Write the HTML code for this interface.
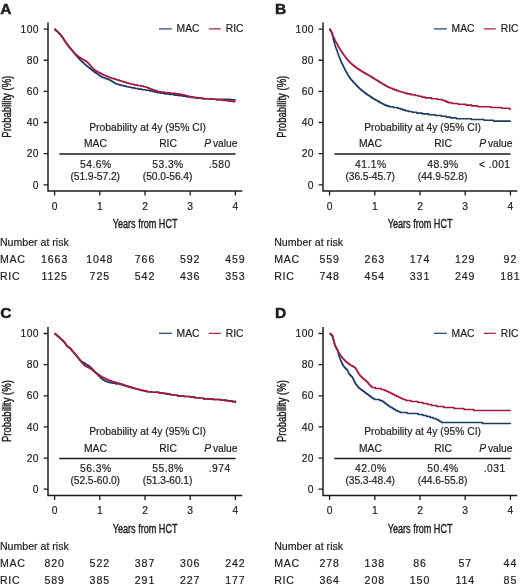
<!DOCTYPE html>
<html><head><meta charset="utf-8"><style>
html,body{margin:0;padding:0;background:#fff;}
svg{display:block;will-change:transform;}
text{font-family:"Liberation Sans", sans-serif;fill:#1c1c1c;stroke:#1c1c1c;}
</style></head><body>
<svg width="520" height="587" viewBox="0 0 520 587">
<rect width="520" height="587" fill="#fff"/>
<g stroke-width="0.18">
<g transform="translate(0,0)">
<text x="0.3" y="13.65" font-size="15.5" font-weight="bold" stroke="#1c1c1c" stroke-width="0.5">A</text>
<path d="M48,22.6 V191.1 H242.3" fill="none" stroke="#1c1c1c" stroke-width="1.5"/>
<path d="M43.6,184.80H48M43.6,153.66H48M43.6,122.52H48M43.6,91.38H48M43.6,60.24H48M43.6,29.10H48M54.60,191.1V195.6M99.80,191.1V195.6M145.00,191.1V195.6M190.20,191.1V195.6M235.40,191.1V195.6" stroke="#1c1c1c" stroke-width="1.3" fill="none"/>
<text x="39.050000000000004" y="188.5" font-size="10.3" text-anchor="end" letter-spacing="0.45">0</text>
<text x="39.050000000000004" y="157.36" font-size="10.3" text-anchor="end" letter-spacing="0.45">20</text>
<text x="39.050000000000004" y="126.22" font-size="10.3" text-anchor="end" letter-spacing="0.45">40</text>
<text x="39.050000000000004" y="95.08" font-size="10.3" text-anchor="end" letter-spacing="0.45">60</text>
<text x="39.050000000000004" y="63.94" font-size="10.3" text-anchor="end" letter-spacing="0.45">80</text>
<text x="39.050000000000004" y="32.8" font-size="10.3" text-anchor="end" letter-spacing="0.45">100</text>
<text x="54.6" y="209.6" font-size="10.3" text-anchor="middle" >0</text>
<text x="99.8" y="209.6" font-size="10.3" text-anchor="middle" >1</text>
<text x="145.0" y="209.6" font-size="10.3" text-anchor="middle" >2</text>
<text x="190.2" y="209.6" font-size="10.3" text-anchor="middle" >3</text>
<text x="235.4" y="209.6" font-size="10.3" text-anchor="middle" >4</text>
<text transform="translate(145.1,228.2) scale(0.74,1)" font-size="12.3" text-anchor="middle" stroke="#1c1c1c" stroke-width="0.4">Years from HCT</text>
<text transform="translate(10.9,106.7) rotate(-90) scale(0.763,1)" font-size="12.5" text-anchor="middle" stroke="#1c1c1c" stroke-width="0.4">Probability (%)</text>
<path d="M159,28.9H171.8" stroke="#1d3d68" stroke-width="1.2"/>
<path d="M208.75,28.9H220.75" stroke="#a8173c" stroke-width="1.2"/>
<text x="176.6" y="32.4" font-size="10.3" text-anchor="start" >MAC</text>
<text x="225.8" y="32.4" font-size="10.3" text-anchor="start" >RIC</text>
<path d="M54.60,29.10H55.00V29.70H55.60V30.30H56.20V30.90H57.00V31.50H57.60V32.10H58.20V32.70H58.80V33.30H59.40V33.90H60.00V34.50H60.40V35.10H61.00V35.70H61.40V36.30H62.00V36.90H62.40V37.50H62.80V38.10H63.20V38.70H63.60V39.30H64.00V39.90H64.40V40.50H64.80V41.10H65.20V41.70H65.60V42.30H66.00V42.90H66.40V43.50H66.80V44.10H67.20V44.70H67.80V45.30H68.20V45.90H68.60V46.50H69.20V47.10H69.60V47.70H70.20V48.30H70.60V48.90H71.20V49.50H71.60V50.10H72.20V50.70H72.60V51.30H73.00V51.90H73.60V52.50H74.00V53.10H74.60V53.70H75.00V54.30H75.40V54.90H76.00V55.50H76.40V56.10H77.00V56.70H77.60V57.30H78.00V57.90H78.60V58.50H79.20V59.10H79.80V59.70H80.40V60.30H81.00V60.90H81.60V61.50H82.20V62.10H83.00V62.70H83.60V63.30H84.20V63.90H85.00V64.50H85.60V65.10H86.20V65.70H87.00V66.30H87.80V66.90H88.40V67.50H89.20V68.10H90.00V68.70H90.60V69.30H91.40V69.90H92.20V70.50H93.00V71.10H93.80V71.70H94.60V72.30H95.60V72.90H96.40V73.50H97.20V74.10H98.00V74.70H98.80V75.30H99.80V75.90H100.60V76.50H101.60V77.10H102.80V77.70H104.60V78.30H106.20V78.90H108.00V79.50H109.40V80.10H110.60V80.70H111.60V81.30H112.60V81.90H113.40V82.50H114.40V83.10H115.40V83.70H117.00V84.30H118.80V84.90H121.00V85.50H123.60V86.10H126.20V86.70H128.80V87.30H131.80V87.90H134.80V88.50H138.20V89.10H141.80V89.70H145.80V90.30H149.60V90.90H152.40V91.50H154.80V92.10H157.20V92.70H160.60V93.30H164.60V93.90H169.20V94.50H174.20V95.10H178.80V95.70H182.80V96.30H186.80V96.90H191.00V97.50H196.00V98.10H201.80V98.70H212.40V99.30H230.60V99.90H235.40V99.80" fill="none" stroke="#1d3d68" stroke-width="1.6" stroke-linejoin="round"/>
<path d="M54.60,29.10H55.00V29.70H55.60V30.30H56.20V30.90H57.00V31.50H57.60V32.10H58.20V32.70H58.80V33.30H59.40V33.90H60.00V34.50H60.40V35.10H61.00V35.70H61.40V36.30H62.00V36.90H62.40V37.50H62.80V38.10H63.20V38.70H63.60V39.30H64.00V39.90H64.40V40.50H64.80V41.10H65.20V41.70H65.60V42.30H66.00V42.90H66.40V43.50H66.80V44.10H67.20V44.70H67.80V45.30H68.20V45.90H68.60V46.50H69.00V47.10H69.60V47.70H70.00V48.30H70.60V48.90H71.00V49.50H71.60V50.10H72.00V50.70H72.60V51.30H73.20V51.90H73.80V52.50H74.20V53.10H74.80V53.70H75.40V54.30H76.00V54.90H76.80V55.50H77.40V56.10H78.20V56.70H79.00V57.30H80.00V57.90H80.80V58.50H81.80V59.10H83.00V59.70H84.00V60.30H85.00V60.90H86.00V61.50H86.80V62.10H87.60V62.70H88.20V63.30H88.80V63.90H89.20V64.50H89.80V65.10H90.20V65.70H90.80V66.30H91.20V66.90H91.80V67.50H92.20V68.10H92.80V68.70H93.40V69.30H94.20V69.90H95.00V70.50H96.00V71.10H97.00V71.70H98.00V72.30H99.20V72.90H100.40V73.50H101.60V74.10H102.80V74.70H104.00V75.30H105.40V75.90H106.80V76.50H108.20V77.10H109.80V77.70H111.60V78.30H113.40V78.90H115.40V79.50H117.20V80.10H119.20V80.70H121.20V81.30H123.00V81.90H125.00V82.50H126.80V83.10H129.00V83.70H131.20V84.30H133.80V84.90H137.00V85.50H140.40V86.10H143.40V86.70H145.80V87.30H147.60V87.90H149.00V88.50H150.60V89.10H152.20V89.70H153.80V90.30H155.60V90.90H157.40V91.50H160.40V92.10H164.60V92.70H170.40V93.30H176.00V93.90H180.00V94.50H183.00V95.10H185.40V95.70H187.80V96.30H190.20V96.90H193.40V97.50H197.80V98.10H203.20V98.70H209.20V99.30H216.20V99.90H222.80V100.50H228.20V101.10H233.00V101.70H235.40" fill="none" stroke="#a8173c" stroke-width="1.6" stroke-linejoin="round"/>
<text x="147.6" y="131.1" font-size="10.3" text-anchor="middle" >Probability at 4y (95% CI)</text>
<text x="95.5" y="147.2" font-size="10.3" text-anchor="middle" >MAC</text>
<text x="168" y="147.2" font-size="10.3" text-anchor="middle" >RIC</text>
<text x="204.2" y="147.2" font-size="10.3" font-style="italic">P</text>
<text x="212.9" y="147.2" font-size="10.3" text-anchor="start" >value</text>
<path d="M59.3,154H235.6" stroke="#1c1c1c" stroke-width="1.5"/>
<text x="95.82" y="168.0" font-size="10.3" text-anchor="middle" letter-spacing="0.45">54.6%</text>
<text x="168.02" y="168.0" font-size="10.3" text-anchor="middle" letter-spacing="0.45">53.3%</text>
<text x="219.72" y="168.0" font-size="10.3" text-anchor="middle" letter-spacing="0.45">.580</text>
<text x="95.2" y="179.6" font-size="10.3" text-anchor="middle" letter-spacing="-0.08">(51.9-57.2)</text>
<text x="167.6" y="179.6" font-size="10.3" text-anchor="middle" letter-spacing="-0.08">(50.0-56.4)</text>
<text x="-0.1" y="245.8" font-size="10.6" text-anchor="start" >Number at risk</text>
<text x="-0.1" y="262.5" font-size="10.6" text-anchor="start" letter-spacing="0.7">MAC</text>
<text x="-0.1" y="279.6" font-size="10.6" text-anchor="start" letter-spacing="0.7">RIC</text>
<text x="54.6" y="262.8" font-size="10.6" text-anchor="middle" letter-spacing="0.9">1663</text>
<text x="54.6" y="279.7" font-size="10.6" text-anchor="middle" letter-spacing="0.9">1125</text>
<text x="99.8" y="262.8" font-size="10.6" text-anchor="middle" letter-spacing="0.9">1048</text>
<text x="99.8" y="279.7" font-size="10.6" text-anchor="middle" letter-spacing="0.9">725</text>
<text x="145.0" y="262.8" font-size="10.6" text-anchor="middle" letter-spacing="0.9">766</text>
<text x="145.0" y="279.7" font-size="10.6" text-anchor="middle" letter-spacing="0.9">542</text>
<text x="190.2" y="262.8" font-size="10.6" text-anchor="middle" letter-spacing="0.9">592</text>
<text x="190.2" y="279.7" font-size="10.6" text-anchor="middle" letter-spacing="0.9">436</text>
<text x="235.4" y="262.8" font-size="10.6" text-anchor="middle" letter-spacing="0.9">459</text>
<text x="235.4" y="279.7" font-size="10.6" text-anchor="middle" letter-spacing="0.9">353</text>
</g>
<g transform="translate(275,0)">
<text x="-0.1" y="13.65" font-size="15.5" font-weight="bold" stroke="#1c1c1c" stroke-width="0.5">B</text>
<path d="M48,22.6 V191.1 H242.3" fill="none" stroke="#1c1c1c" stroke-width="1.5"/>
<path d="M43.6,184.80H48M43.6,153.66H48M43.6,122.52H48M43.6,91.38H48M43.6,60.24H48M43.6,29.10H48M54.60,191.1V195.6M99.80,191.1V195.6M145.00,191.1V195.6M190.20,191.1V195.6M235.40,191.1V195.6" stroke="#1c1c1c" stroke-width="1.3" fill="none"/>
<text x="39.050000000000004" y="188.5" font-size="10.3" text-anchor="end" letter-spacing="0.45">0</text>
<text x="39.050000000000004" y="157.36" font-size="10.3" text-anchor="end" letter-spacing="0.45">20</text>
<text x="39.050000000000004" y="126.22" font-size="10.3" text-anchor="end" letter-spacing="0.45">40</text>
<text x="39.050000000000004" y="95.08" font-size="10.3" text-anchor="end" letter-spacing="0.45">60</text>
<text x="39.050000000000004" y="63.94" font-size="10.3" text-anchor="end" letter-spacing="0.45">80</text>
<text x="39.050000000000004" y="32.8" font-size="10.3" text-anchor="end" letter-spacing="0.45">100</text>
<text x="54.6" y="209.6" font-size="10.3" text-anchor="middle" >0</text>
<text x="99.8" y="209.6" font-size="10.3" text-anchor="middle" >1</text>
<text x="145.0" y="209.6" font-size="10.3" text-anchor="middle" >2</text>
<text x="190.2" y="209.6" font-size="10.3" text-anchor="middle" >3</text>
<text x="235.4" y="209.6" font-size="10.3" text-anchor="middle" >4</text>
<text transform="translate(145.1,228.2) scale(0.74,1)" font-size="12.3" text-anchor="middle" stroke="#1c1c1c" stroke-width="0.4">Years from HCT</text>
<text transform="translate(10.9,106.7) rotate(-90) scale(0.763,1)" font-size="12.5" text-anchor="middle" stroke="#1c1c1c" stroke-width="0.4">Probability (%)</text>
<path d="M159,28.9H171.8" stroke="#1d3d68" stroke-width="1.2"/>
<path d="M208.75,28.9H220.75" stroke="#a8173c" stroke-width="1.2"/>
<text x="176.6" y="32.4" font-size="10.3" text-anchor="start" >MAC</text>
<text x="225.8" y="32.4" font-size="10.3" text-anchor="start" >RIC</text>
<path d="M54.60,29.10H55.00V29.90H55.60V30.70H56.00V31.50H56.40V32.30H56.80V33.10H57.00V33.90H57.20V34.70H57.40V35.50H57.60V36.30H57.80V37.10H58.00V38.70H58.20V39.50H58.40V40.30H58.60V41.10H58.80V41.90H59.20V42.70H59.40V43.50H59.60V44.30H59.80V45.10H60.20V45.90H60.40V46.70H60.60V47.50H61.00V48.30H61.20V49.10H61.60V49.90H61.80V50.70H62.20V51.50H62.40V52.30H62.60V53.10H63.00V53.90H63.20V54.70H63.60V55.50H63.80V56.30H64.20V57.10H64.40V57.90H64.80V58.70H65.00V59.50H65.40V60.30H65.80V61.10H66.00V61.90H66.40V62.70H66.80V63.50H67.20V64.30H67.60V65.10H68.00V65.90H68.40V66.70H68.80V67.50H69.20V68.30H69.60V69.10H70.00V69.90H70.40V70.70H70.80V71.50H71.20V72.30H71.80V73.10H72.20V73.90H72.60V74.70H73.00V75.50H73.60V76.30H74.00V77.10H74.60V77.90H75.20V78.70H75.80V79.50H76.40V80.30H77.20V81.10H78.00V81.90H78.60V82.70H79.40V83.50H80.20V84.30H81.00V85.10H81.60V85.90H82.40V86.70H83.20V87.50H84.00V88.30H84.80V89.10H85.80V89.90H86.80V90.70H87.80V91.50H88.80V92.30H89.80V93.10H90.80V93.90H92.00V94.70H93.20V95.50H94.40V96.30H95.60V97.10H96.80V97.90H98.00V98.70H99.40V99.50H100.80V100.30H102.20V101.10H103.60V101.90H105.00V102.70H106.40V103.50H108.00V104.30H109.40V105.10H111.40V105.90H114.00V106.70H118.20V107.50H122.40V108.30H125.20V109.10H127.60V109.90H130.20V110.70H133.20V111.50H137.00V112.30H141.60V113.10H147.40V113.90H153.60V114.70H160.40V115.50H166.40V116.30H171.20V117.10H175.60V117.90H181.40V118.70H196.20V119.50H209.00V120.30H218.40V121.10H235.40V120.80" fill="none" stroke="#1d3d68" stroke-width="1.6" stroke-linejoin="round"/>
<path d="M54.60,29.10H55.00V29.90H55.40V30.70H56.00V31.50H56.40V32.30H56.80V33.10H57.20V33.90H57.40V34.70H57.80V35.50H58.00V36.30H58.40V37.10H58.80V37.90H59.00V38.70H59.40V39.50H59.80V40.30H60.20V41.10H60.60V41.90H61.00V42.70H61.60V43.50H62.00V44.30H62.40V45.10H62.80V45.90H63.40V46.70H63.80V47.50H64.20V48.30H64.80V49.10H65.20V49.90H65.80V50.70H66.20V51.50H66.80V52.30H67.40V53.10H67.80V53.90H68.40V54.70H69.00V55.50H69.60V56.30H70.20V57.10H70.80V57.90H71.40V58.70H72.00V59.50H72.60V60.30H73.40V61.10H74.20V61.90H75.00V62.70H75.80V63.50H76.60V64.30H77.60V65.10H78.60V65.90H79.60V66.70H80.60V67.50H81.80V68.30H82.80V69.10H84.00V69.90H85.20V70.70H86.60V71.50H87.80V72.30H89.20V73.10H90.60V73.90H92.00V74.70H93.40V75.50H94.80V76.30H96.00V77.10H97.40V77.90H98.60V78.70H100.00V79.50H101.20V80.30H102.60V81.10H104.00V81.90H105.20V82.70H106.60V83.50H107.80V84.30H109.20V85.10H110.60V85.90H112.00V86.70H113.60V87.50H115.40V88.30H117.40V89.10H119.40V89.90H121.60V90.70H123.80V91.50H126.40V92.30H129.00V93.10H132.00V93.90H135.80V94.70H140.20V95.50H143.60V96.30H146.80V97.10H150.20V97.90H156.60V98.70H162.40V99.50H167.00V100.30H169.60V101.10H171.40V101.90H173.20V102.70H177.00V103.50H183.00V104.30H190.80V105.10H196.60V105.90H202.80V106.70H215.60V107.50H226.60V108.30H234.40V109.10H235.40V108.80" fill="none" stroke="#a8173c" stroke-width="1.6" stroke-linejoin="round"/>
<text x="147.6" y="131.1" font-size="10.3" text-anchor="middle" >Probability at 4y (95% CI)</text>
<text x="95.5" y="147.2" font-size="10.3" text-anchor="middle" >MAC</text>
<text x="168" y="147.2" font-size="10.3" text-anchor="middle" >RIC</text>
<text x="204.2" y="147.2" font-size="10.3" font-style="italic">P</text>
<text x="212.9" y="147.2" font-size="10.3" text-anchor="start" >value</text>
<path d="M59.3,154H235.6" stroke="#1c1c1c" stroke-width="1.5"/>
<text x="95.82" y="168.0" font-size="10.3" text-anchor="middle" letter-spacing="0.45">41.1%</text>
<text x="168.02" y="168.0" font-size="10.3" text-anchor="middle" letter-spacing="0.45">48.9%</text>
<text x="219.72" y="168.0" font-size="10.3" text-anchor="middle" letter-spacing="0.45">&lt; .001</text>
<text x="95.2" y="179.6" font-size="10.3" text-anchor="middle" letter-spacing="-0.08">(36.5-45.7)</text>
<text x="167.6" y="179.6" font-size="10.3" text-anchor="middle" letter-spacing="-0.08">(44.9-52.8)</text>
<text x="-0.8" y="245.8" font-size="10.6" text-anchor="start" >Number at risk</text>
<text x="-0.8" y="262.5" font-size="10.6" text-anchor="start" letter-spacing="0.7">MAC</text>
<text x="-0.8" y="279.6" font-size="10.6" text-anchor="start" letter-spacing="0.7">RIC</text>
<text x="54.6" y="262.8" font-size="10.6" text-anchor="middle" letter-spacing="0.9">559</text>
<text x="54.6" y="279.7" font-size="10.6" text-anchor="middle" letter-spacing="0.9">748</text>
<text x="99.8" y="262.8" font-size="10.6" text-anchor="middle" letter-spacing="0.9">263</text>
<text x="99.8" y="279.7" font-size="10.6" text-anchor="middle" letter-spacing="0.9">454</text>
<text x="145.0" y="262.8" font-size="10.6" text-anchor="middle" letter-spacing="0.9">174</text>
<text x="145.0" y="279.7" font-size="10.6" text-anchor="middle" letter-spacing="0.9">331</text>
<text x="190.2" y="262.8" font-size="10.6" text-anchor="middle" letter-spacing="0.9">129</text>
<text x="190.2" y="279.7" font-size="10.6" text-anchor="middle" letter-spacing="0.9">249</text>
<text x="235.4" y="262.8" font-size="10.6" text-anchor="middle" letter-spacing="0.9">92</text>
<text x="235.4" y="279.7" font-size="10.6" text-anchor="middle" letter-spacing="0.9">181</text>
</g>
<g transform="translate(0,304.4)">
<text x="0.3" y="13.65" font-size="15.5" font-weight="bold" stroke="#1c1c1c" stroke-width="0.5">C</text>
<path d="M48,22.6 V191.1 H242.3" fill="none" stroke="#1c1c1c" stroke-width="1.5"/>
<path d="M43.6,184.80H48M43.6,153.66H48M43.6,122.52H48M43.6,91.38H48M43.6,60.24H48M43.6,29.10H48M54.60,191.1V195.6M99.80,191.1V195.6M145.00,191.1V195.6M190.20,191.1V195.6M235.40,191.1V195.6" stroke="#1c1c1c" stroke-width="1.3" fill="none"/>
<text x="39.050000000000004" y="188.5" font-size="10.3" text-anchor="end" letter-spacing="0.45">0</text>
<text x="39.050000000000004" y="157.36" font-size="10.3" text-anchor="end" letter-spacing="0.45">20</text>
<text x="39.050000000000004" y="126.22" font-size="10.3" text-anchor="end" letter-spacing="0.45">40</text>
<text x="39.050000000000004" y="95.08" font-size="10.3" text-anchor="end" letter-spacing="0.45">60</text>
<text x="39.050000000000004" y="63.94" font-size="10.3" text-anchor="end" letter-spacing="0.45">80</text>
<text x="39.050000000000004" y="32.8" font-size="10.3" text-anchor="end" letter-spacing="0.45">100</text>
<text x="54.6" y="209.6" font-size="10.3" text-anchor="middle" >0</text>
<text x="99.8" y="209.6" font-size="10.3" text-anchor="middle" >1</text>
<text x="145.0" y="209.6" font-size="10.3" text-anchor="middle" >2</text>
<text x="190.2" y="209.6" font-size="10.3" text-anchor="middle" >3</text>
<text x="235.4" y="209.6" font-size="10.3" text-anchor="middle" >4</text>
<text transform="translate(145.1,228.2) scale(0.74,1)" font-size="12.3" text-anchor="middle" stroke="#1c1c1c" stroke-width="0.4">Years from HCT</text>
<text transform="translate(10.9,106.7) rotate(-90) scale(0.763,1)" font-size="12.5" text-anchor="middle" stroke="#1c1c1c" stroke-width="0.4">Probability (%)</text>
<path d="M159,28.9H171.8" stroke="#1d3d68" stroke-width="1.2"/>
<path d="M208.75,28.9H220.75" stroke="#a8173c" stroke-width="1.2"/>
<text x="176.6" y="32.4" font-size="10.3" text-anchor="start" >MAC</text>
<text x="225.8" y="32.4" font-size="10.3" text-anchor="start" >RIC</text>
<path d="M54.60,29.10H55.00V29.70H55.80V30.30H56.60V30.90H57.20V31.50H58.00V32.10H58.60V32.70H59.40V33.30H60.00V33.90H60.60V34.50H61.20V35.10H61.80V35.70H62.60V36.30H63.20V36.90H63.80V37.50H64.20V38.10H64.80V38.70H65.20V39.30H65.60V39.90H66.00V40.50H66.40V41.10H66.80V41.70H67.60V42.30H68.40V42.90H69.20V43.50H70.00V44.10H70.60V44.70H71.00V45.30H71.60V45.90H72.20V46.50H72.60V47.10H73.20V47.70H73.60V48.30H74.20V48.90H74.80V49.50H75.20V50.10H75.80V50.70H76.20V51.30H76.80V51.90H77.20V52.50H77.80V53.10H78.20V53.70H78.60V54.30H79.00V54.90H79.40V55.50H80.00V56.10H80.60V56.70H81.40V57.30H82.40V57.90H83.60V58.50H84.60V59.10H85.60V59.70H86.40V60.30H87.40V60.90H88.40V61.50H89.20V62.10H90.00V62.70H90.80V63.30H91.40V63.90H92.00V64.50H92.60V65.10H93.20V65.70H93.80V66.30H94.20V66.90H94.80V67.50H95.40V68.10H96.00V68.70H96.60V69.30H97.20V69.90H97.80V70.50H98.20V71.10H98.80V71.70H99.40V72.30H100.00V72.90H100.60V73.50H101.20V74.10H101.80V74.70H102.60V75.30H103.40V75.90H104.60V76.50H106.00V77.10H107.60V77.70H109.60V78.30H112.00V78.90H115.80V79.50H119.60V80.10H122.20V80.70H124.20V81.30H126.20V81.90H128.00V82.50H130.00V83.10H132.00V83.70H134.20V84.30H136.60V84.90H139.00V85.50H141.40V86.10H144.20V86.70H147.00V87.30H151.00V87.90H158.80V88.50H163.00V89.10H166.20V89.70H169.60V90.30H173.20V90.90H177.60V91.50H184.00V92.10H190.20V92.70H194.80V93.30H198.80V93.90H203.60V94.50H212.80V95.10H220.80V95.70H227.00V96.30H232.00V96.90H235.40V97.10" fill="none" stroke="#1d3d68" stroke-width="1.6" stroke-linejoin="round"/>
<path d="M54.60,29.10H55.00V29.70H55.80V30.30H56.60V30.90H57.20V31.50H58.00V32.10H58.60V32.70H59.40V33.30H60.00V33.90H60.60V34.50H61.20V35.10H61.80V35.70H62.60V36.30H63.20V36.90H63.80V37.50H64.20V38.10H64.80V38.70H65.20V39.30H65.60V39.90H66.00V40.50H66.40V41.10H66.80V41.70H67.60V42.30H68.40V42.90H69.20V43.50H70.00V44.10H70.60V44.70H71.00V45.30H71.60V45.90H72.20V46.50H72.60V47.10H73.20V47.70H73.60V48.30H74.20V48.90H74.80V49.50H75.20V50.10H75.80V50.70H76.20V51.30H76.80V51.90H77.20V52.50H77.80V53.10H78.20V53.70H78.60V54.30H79.20V54.90H79.60V55.50H80.20V56.10H80.60V56.70H81.00V57.30H81.60V57.90H82.00V58.50H82.60V59.10H83.00V59.70H83.60V60.30H84.20V60.90H84.80V61.50H85.80V62.10H87.00V62.70H88.20V63.30H89.40V63.90H90.40V64.50H91.40V65.10H92.20V65.70H92.80V66.30H93.60V66.90H94.40V67.50H95.00V68.10H95.80V68.70H96.80V69.30H97.60V69.90H98.40V70.50H99.40V71.10H100.20V71.70H101.20V72.30H102.20V72.90H103.40V73.50H104.40V74.10H105.80V74.70H107.00V75.30H108.40V75.90H110.00V76.50H111.60V77.10H113.40V77.70H115.60V78.30H117.60V78.90H119.80V79.50H121.80V80.10H123.60V80.70H125.40V81.30H127.20V81.90H129.00V82.50H131.00V83.10H133.00V83.70H135.00V84.30H137.00V84.90H139.20V85.50H141.60V86.10H144.20V86.70H147.00V87.30H151.00V87.90H158.80V88.50H163.80V89.10H167.80V89.70H171.00V90.30H173.80V90.90H177.60V91.50H183.80V92.10H190.20V92.70H194.80V93.30H198.80V93.90H203.60V94.50H213.00V95.10H220.00V95.70H224.60V96.30H228.60V96.90H232.20V97.50H235.40V98.10H235.40V97.80" fill="none" stroke="#a8173c" stroke-width="1.6" stroke-linejoin="round"/>
<text x="147.6" y="131.1" font-size="10.3" text-anchor="middle" >Probability at 4y (95% CI)</text>
<text x="95.5" y="147.2" font-size="10.3" text-anchor="middle" >MAC</text>
<text x="168" y="147.2" font-size="10.3" text-anchor="middle" >RIC</text>
<text x="204.2" y="147.2" font-size="10.3" font-style="italic">P</text>
<text x="212.9" y="147.2" font-size="10.3" text-anchor="start" >value</text>
<path d="M59.3,154H235.6" stroke="#1c1c1c" stroke-width="1.5"/>
<text x="95.82" y="168.0" font-size="10.3" text-anchor="middle" letter-spacing="0.45">56.3%</text>
<text x="168.02" y="168.0" font-size="10.3" text-anchor="middle" letter-spacing="0.45">55.8%</text>
<text x="219.72" y="168.0" font-size="10.3" text-anchor="middle" letter-spacing="0.45">.974</text>
<text x="95.2" y="179.6" font-size="10.3" text-anchor="middle" letter-spacing="-0.08">(52.5-60.0)</text>
<text x="167.6" y="179.6" font-size="10.3" text-anchor="middle" letter-spacing="-0.08">(51.3-60.1)</text>
<text x="-0.1" y="245.8" font-size="10.6" text-anchor="start" >Number at risk</text>
<text x="-0.1" y="262.5" font-size="10.6" text-anchor="start" letter-spacing="0.7">MAC</text>
<text x="-0.1" y="279.6" font-size="10.6" text-anchor="start" letter-spacing="0.7">RIC</text>
<text x="54.6" y="262.8" font-size="10.6" text-anchor="middle" letter-spacing="0.9">820</text>
<text x="54.6" y="279.7" font-size="10.6" text-anchor="middle" letter-spacing="0.9">589</text>
<text x="99.8" y="262.8" font-size="10.6" text-anchor="middle" letter-spacing="0.9">522</text>
<text x="99.8" y="279.7" font-size="10.6" text-anchor="middle" letter-spacing="0.9">385</text>
<text x="145.0" y="262.8" font-size="10.6" text-anchor="middle" letter-spacing="0.9">387</text>
<text x="145.0" y="279.7" font-size="10.6" text-anchor="middle" letter-spacing="0.9">291</text>
<text x="190.2" y="262.8" font-size="10.6" text-anchor="middle" letter-spacing="0.9">306</text>
<text x="190.2" y="279.7" font-size="10.6" text-anchor="middle" letter-spacing="0.9">227</text>
<text x="235.4" y="262.8" font-size="10.6" text-anchor="middle" letter-spacing="0.9">242</text>
<text x="235.4" y="279.7" font-size="10.6" text-anchor="middle" letter-spacing="0.9">177</text>
</g>
<g transform="translate(275,304.4)">
<text x="-0.1" y="13.65" font-size="15.5" font-weight="bold" stroke="#1c1c1c" stroke-width="0.5">D</text>
<path d="M48,22.6 V191.1 H242.3" fill="none" stroke="#1c1c1c" stroke-width="1.5"/>
<path d="M43.6,184.80H48M43.6,153.66H48M43.6,122.52H48M43.6,91.38H48M43.6,60.24H48M43.6,29.10H48M54.60,191.1V195.6M99.80,191.1V195.6M145.00,191.1V195.6M190.20,191.1V195.6M235.40,191.1V195.6" stroke="#1c1c1c" stroke-width="1.3" fill="none"/>
<text x="39.050000000000004" y="188.5" font-size="10.3" text-anchor="end" letter-spacing="0.45">0</text>
<text x="39.050000000000004" y="157.36" font-size="10.3" text-anchor="end" letter-spacing="0.45">20</text>
<text x="39.050000000000004" y="126.22" font-size="10.3" text-anchor="end" letter-spacing="0.45">40</text>
<text x="39.050000000000004" y="95.08" font-size="10.3" text-anchor="end" letter-spacing="0.45">60</text>
<text x="39.050000000000004" y="63.94" font-size="10.3" text-anchor="end" letter-spacing="0.45">80</text>
<text x="39.050000000000004" y="32.8" font-size="10.3" text-anchor="end" letter-spacing="0.45">100</text>
<text x="54.6" y="209.6" font-size="10.3" text-anchor="middle" >0</text>
<text x="99.8" y="209.6" font-size="10.3" text-anchor="middle" >1</text>
<text x="145.0" y="209.6" font-size="10.3" text-anchor="middle" >2</text>
<text x="190.2" y="209.6" font-size="10.3" text-anchor="middle" >3</text>
<text x="235.4" y="209.6" font-size="10.3" text-anchor="middle" >4</text>
<text transform="translate(145.1,228.2) scale(0.74,1)" font-size="12.3" text-anchor="middle" stroke="#1c1c1c" stroke-width="0.4">Years from HCT</text>
<text transform="translate(10.9,106.7) rotate(-90) scale(0.763,1)" font-size="12.5" text-anchor="middle" stroke="#1c1c1c" stroke-width="0.4">Probability (%)</text>
<path d="M159,28.9H171.8" stroke="#1d3d68" stroke-width="1.2"/>
<path d="M208.75,28.9H220.75" stroke="#a8173c" stroke-width="1.2"/>
<text x="176.6" y="32.4" font-size="10.3" text-anchor="start" >MAC</text>
<text x="225.8" y="32.4" font-size="10.3" text-anchor="start" >RIC</text>
<path d="M54.60,29.10H55.40V30.10H56.80V31.10H57.40V32.10H57.80V33.10H58.00V34.10H58.20V35.10H58.60V36.10H58.80V37.10H59.00V38.10H59.20V39.10H59.60V40.10H59.80V41.10H60.40V42.10H60.80V43.10H61.40V44.10H62.00V45.10H62.40V46.10H62.80V47.10H63.00V48.10H63.20V49.10H63.40V50.10H63.80V51.10H64.00V52.10H64.40V53.10H64.80V54.10H65.20V55.10H65.60V56.10H66.00V57.10H66.40V58.10H67.00V59.10H67.40V60.10H68.00V61.10H68.60V62.10H69.40V63.10H70.20V64.10H71.20V65.10H72.40V66.10H73.00V67.10H73.20V68.10H73.60V69.10H74.20V70.10H75.20V71.10H76.20V72.10H77.20V73.10H77.80V74.10H78.40V75.10H78.80V76.10H79.20V77.10H79.80V78.10H80.20V79.10H80.80V80.10H81.60V81.10H82.40V82.10H83.20V83.10H84.20V84.10H85.40V85.10H86.80V86.10H88.20V87.10H89.60V88.10H90.80V89.10H92.20V90.10H93.60V91.10H95.00V92.10H96.20V93.10H97.60V94.10H99.40V95.10H104.60V96.10H107.20V97.10H108.80V98.10H110.00V99.10H111.40V100.10H112.60V101.10H114.00V102.10H115.60V103.10H117.40V104.10H119.00V105.10H120.60V106.10H122.60V107.10H125.00V108.10H132.40V109.10H143.00V110.10H147.80V111.10H151.60V112.10H155.20V113.10H158.20V114.10H161.00V115.10H163.20V116.10H164.60V117.10H166.40V118.10H207.40V119.10H235.40V119.30" fill="none" stroke="#1d3d68" stroke-width="1.6" stroke-linejoin="round"/>
<path d="M54.60,29.10H55.40V30.10H56.80V31.10H57.40V32.10H57.80V33.10H58.00V34.10H58.20V35.10H58.60V36.10H58.80V37.10H59.00V38.10H59.20V39.10H59.60V40.10H59.80V41.10H60.40V42.10H60.80V43.10H61.20V44.10H61.80V45.10H62.40V46.10H63.00V47.10H63.40V48.10H64.00V49.10H64.60V50.10H65.20V51.10H66.00V52.10H66.80V53.10H67.60V54.10H68.60V55.10H69.40V56.10H70.40V57.10H71.60V58.10H72.80V59.10H74.00V60.10H75.60V61.10H77.20V62.10H79.20V63.10H80.40V64.10H81.00V65.10H81.80V66.10H82.20V67.10H82.80V68.10H83.40V69.10H84.00V70.10H84.80V71.10H85.60V72.10H86.60V73.10H87.60V74.10H88.80V75.10H90.00V76.10H91.20V77.10H92.40V78.10H93.20V79.10H94.00V80.10H94.80V81.10H95.80V82.10H97.00V83.10H100.40V84.10H106.20V85.10H109.20V86.10H111.60V87.10H113.80V88.10H115.80V89.10H117.80V90.10H119.60V91.10H121.60V92.10H123.80V93.10H125.80V94.10H128.00V95.10H130.80V96.10H136.00V97.10H143.00V98.10H148.00V99.10H152.40V100.10H156.60V101.10H161.80V102.10H168.80V103.10H179.00V104.10H189.00V105.10H198.80V106.10H235.40V106.00" fill="none" stroke="#a8173c" stroke-width="1.6" stroke-linejoin="round"/>
<text x="147.6" y="131.1" font-size="10.3" text-anchor="middle" >Probability at 4y (95% CI)</text>
<text x="95.5" y="147.2" font-size="10.3" text-anchor="middle" >MAC</text>
<text x="168" y="147.2" font-size="10.3" text-anchor="middle" >RIC</text>
<text x="204.2" y="147.2" font-size="10.3" font-style="italic">P</text>
<text x="212.9" y="147.2" font-size="10.3" text-anchor="start" >value</text>
<path d="M59.3,154H235.6" stroke="#1c1c1c" stroke-width="1.5"/>
<text x="95.82" y="168.0" font-size="10.3" text-anchor="middle" letter-spacing="0.45">42.0%</text>
<text x="168.02" y="168.0" font-size="10.3" text-anchor="middle" letter-spacing="0.45">50.4%</text>
<text x="219.72" y="168.0" font-size="10.3" text-anchor="middle" letter-spacing="0.45">.031</text>
<text x="95.2" y="179.6" font-size="10.3" text-anchor="middle" letter-spacing="-0.08">(35.3-48.4)</text>
<text x="167.6" y="179.6" font-size="10.3" text-anchor="middle" letter-spacing="-0.08">(44.6-55.8)</text>
<text x="-0.8" y="245.8" font-size="10.6" text-anchor="start" >Number at risk</text>
<text x="-0.8" y="262.5" font-size="10.6" text-anchor="start" letter-spacing="0.7">MAC</text>
<text x="-0.8" y="279.6" font-size="10.6" text-anchor="start" letter-spacing="0.7">RIC</text>
<text x="54.6" y="262.8" font-size="10.6" text-anchor="middle" letter-spacing="0.9">278</text>
<text x="54.6" y="279.7" font-size="10.6" text-anchor="middle" letter-spacing="0.9">364</text>
<text x="99.8" y="262.8" font-size="10.6" text-anchor="middle" letter-spacing="0.9">138</text>
<text x="99.8" y="279.7" font-size="10.6" text-anchor="middle" letter-spacing="0.9">208</text>
<text x="145.0" y="262.8" font-size="10.6" text-anchor="middle" letter-spacing="0.9">86</text>
<text x="145.0" y="279.7" font-size="10.6" text-anchor="middle" letter-spacing="0.9">150</text>
<text x="190.2" y="262.8" font-size="10.6" text-anchor="middle" letter-spacing="0.9">57</text>
<text x="190.2" y="279.7" font-size="10.6" text-anchor="middle" letter-spacing="0.9">114</text>
<text x="235.4" y="262.8" font-size="10.6" text-anchor="middle" letter-spacing="0.9">44</text>
<text x="235.4" y="279.7" font-size="10.6" text-anchor="middle" letter-spacing="0.9">85</text>
</g>
</g>
</svg>
</body></html>
